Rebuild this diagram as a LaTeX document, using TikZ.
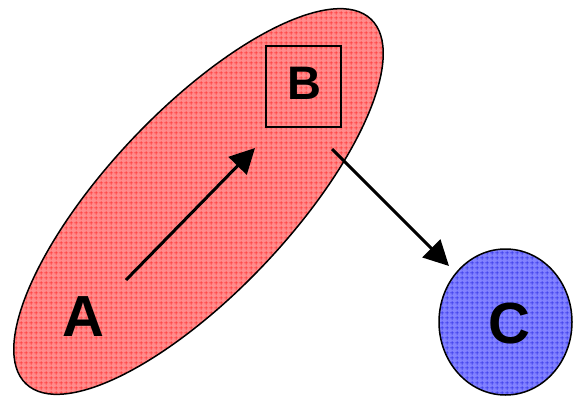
\documentclass[tikz,border=0pt]{standalone}
\usepackage{fontspec}
\setmainfont{Liberation Sans}
\usetikzlibrary{arrows.meta,shapes.geometric,patterns.meta}
\definecolor{redbase}{RGB}{255,140,140}
\definecolor{redline}{RGB}{255,40,40}
\definecolor{bluebase}{RGB}{130,130,255}
\definecolor{blueline}{RGB}{40,40,230}
\tikzdeclarepattern{
  name=pgrid,
  type=uncolored,
  bounding box={(0pt,0pt) and (5pt,5pt)},
  tile size={(5pt,5pt)},
  code={
    \pgfsetlinewidth{0.8pt}
    \pgfpathmoveto{\pgfpoint{0pt}{2.5pt}}\pgfpathlineto{\pgfpoint{5pt}{2.5pt}}
    \pgfpathmoveto{\pgfpoint{2.5pt}{0pt}}\pgfpathlineto{\pgfpoint{2.5pt}{5pt}}
    \pgfusepath{stroke}
  }
}
\tikzset{
  redblob/.style={ellipse, draw=black, line width=1.5pt, inner sep=0pt,
    preaction={fill=redbase}, pattern=pgrid, pattern color=redline},
  blueblob/.style={ellipse, draw=black, line width=1.5pt, inner sep=0pt,
    preaction={fill=bluebase}, pattern=pgrid, pattern color=blueline},
  bigletter/.style={font=\bfseries\fontsize{58}{58}\selectfont, inner sep=0pt},
  boxletter/.style={font=\bfseries\fontsize{47}{47}\selectfont, inner sep=0pt},
  boxstyle/.style={draw=black, line width=1.2pt, inner sep=0pt,
    minimum width=75pt, minimum height=81pt},
  conn/.style={line width=3pt, -{Triangle[length=25pt,width=25pt]}}
}
\begin{document}
\begin{tikzpicture}[x=1pt,y=-1pt]
\useasboundingbox (0,0) rectangle (573,399);
\node[redblob, minimum width=502pt, minimum height=182pt, rotate=46.6] (E) at (198.5,201.5) {};
\node[blueblob, minimum width=133pt, minimum height=146pt] (C) at (505.5,322) {};
\node[bigletter] (Ctext) at (509,324) {C};
\node[bigletter] (A) at (83,317) {A};
\node[boxstyle] (B) at (303.5,86.5) {};
\node[boxletter] (Btext) at (304.5,83) {B};
\coordinate (a1s) at (126,280);
\coordinate (a1e) at (255,148);
\coordinate (a2s) at (332,149);
\coordinate (a2e) at (449,266);
\draw[conn] (a1s) -- (a1e);
\draw[conn] (a2s) -- (a2e);
\end{tikzpicture}
\end{document}
